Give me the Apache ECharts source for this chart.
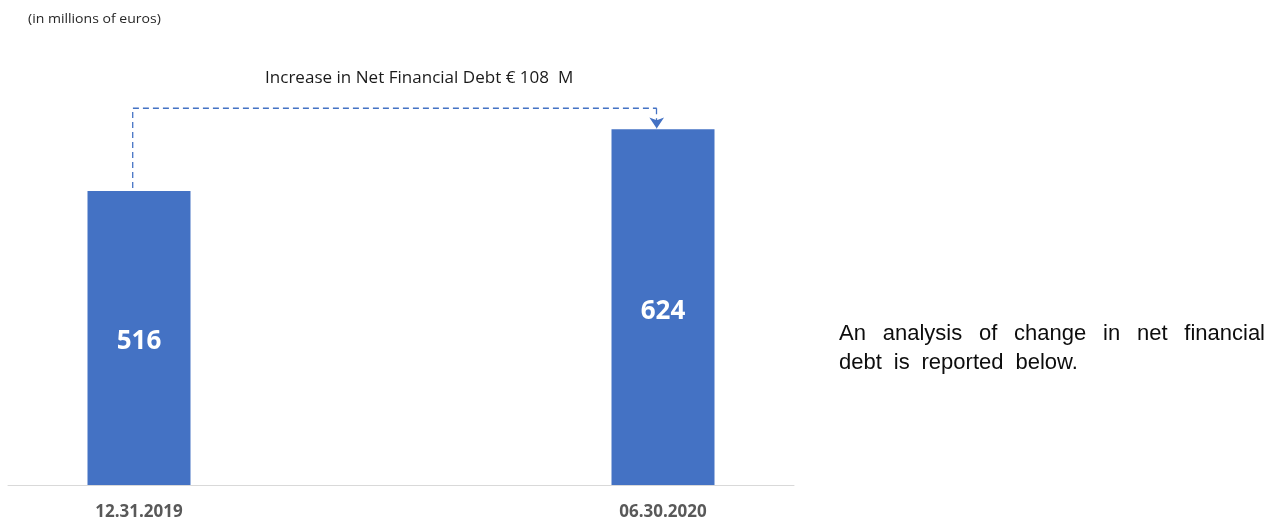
<!DOCTYPE html>
<html>
<head>
<meta charset="utf-8">
<script src="https://cdn.jsdelivr.net/npm/echarts@6/dist/echarts.min.js"></script>
<style>
  html, body { margin: 0; padding: 0; background: #ffffff; }
  #chart { width: 1267px; height: 521px; }
</style>
</head>
<body>
<div id="chart"></div>
<script>
// Net financial debt at the two reporting dates (millions of euros)
const categories = ['12.31.2019', '06.30.2020'];
const netDebt = [516, 624];
const unitNote = '(in millions of euros)';
const commentLines = ['An analysis of change in net financial', 'debt is reported below.'];

const barColor = '#4472C4';
const increase = netDebt[1] - netDebt[0];

// Bridge connector: rises from the first bar, runs across, drops onto the second bar
const bridgeLevel = 661;
const bridgeShift = -0.012;
const bridgePath = [
  [0 + bridgeShift, netDebt[0] + 5],
  [0 + bridgeShift, bridgeLevel],
  [1 + bridgeShift, bridgeLevel]
];
const bridgeDrop = [
  [1 + bridgeShift, bridgeLevel],
  [1 + bridgeShift, netDebt[1] + 1.5]
];

// Lay out words of a paragraph line, optionally justified to a given width
const measureCtx = document.createElement('canvas').getContext('2d');
function wordRow(text, x0, width, y, size, justify) {
  const font = size + 'px "Liberation Sans", Arial, sans-serif';
  measureCtx.font = font;
  const words = text.split(' ');
  const widths = words.map(w => measureCtx.measureText(w).width);
  const total = widths.reduce((a, b) => a + b, 0);
  const gap = justify
    ? (width - total) / (words.length - 1)
    : measureCtx.measureText(' ').width * 1.95;
  let x = x0;
  return words.map((w, i) => {
    const el = {
      type: 'text',
      x: x,
      y: y,
      silent: true,
      style: { text: w, font: font, fill: '#0d0d0d', verticalAlign: 'middle', align: 'left' }
    };
    x += widths[i] + gap;
    return el;
  });
}

const dashed = { color: barColor, width: 1.3, type: [6, 4], opacity: 1 };

const chart = echarts.init(document.getElementById('chart'), null, { renderer: 'canvas' });

chart.setOption({
  animation: false,
  backgroundColor: '#ffffff',
  grid: { left: 8, right: 473, top: 86, bottom: 36, containLabel: false },
  xAxis: {
    type: 'value',
    min: -0.25,
    max: 1.25,
    interval: 0.25,
    axisLine: { show: true, lineStyle: { color: '#D9D9D9', width: 1 } },
    axisTick: { show: false },
    splitLine: { show: false },
    axisLabel: {
      margin: 19,
      fontFamily: '"Open Sans", sans-serif',
      fontWeight: 'bold',
      fontSize: 17,
      color: '#595959',
      showMinLabel: true,
      showMaxLabel: true,
      formatter: v => (Number.isInteger(v) && categories[v] !== undefined ? categories[v] : '')
    }
  },
  yAxis: {
    type: 'value',
    min: 0,
    max: 700,
    show: false
  },
  series: [
    {
      type: 'bar',
      barWidth: 103,
      data: netDebt.map((v, i) => [i, v]),
      itemStyle: { color: barColor },
      label: {
        show: true,
        position: 'inside',
        offset: [0, 4],
        color: '#ffffff',
        fontFamily: '"Open Sans", sans-serif',
        fontWeight: 'bold',
        fontSize: 26
      }
    },
    {
      type: 'lines',
      coordinateSystem: 'cartesian2d',
      polyline: true,
      silent: true,
      lineStyle: dashed,
      data: [{ coords: bridgePath }]
    },
    {
      type: 'lines',
      coordinateSystem: 'cartesian2d',
      silent: true,
      symbol: ['none', 'arrow'],
      symbolSize: [10, 11],
      lineStyle: dashed,
      data: [{ coords: bridgeDrop }]
    }
  ],
  graphic: [
    {
      type: 'text',
      left: 28,
      top: 13,
      silent: true,
      scaleX: 1.08,
      style: { text: unitNote, font: '13px "Open Sans", sans-serif', fill: '#262626' }
    },
    {
      type: 'text',
      left: 265,
      top: 71,
      silent: true,
      scaleX: 1.1,
      style: {
        text: 'Increase in Net Financial Debt € ' + increase + '  M',
        font: '15.5px "Open Sans", sans-serif',
        fill: '#1a1a1a'
      }
    },
    ...wordRow(commentLines[0], 839, 426, 334, 22, true),
    ...wordRow(commentLines[1], 839, 0, 363, 22, false)
  ]
});
</script>
</body>
</html>
